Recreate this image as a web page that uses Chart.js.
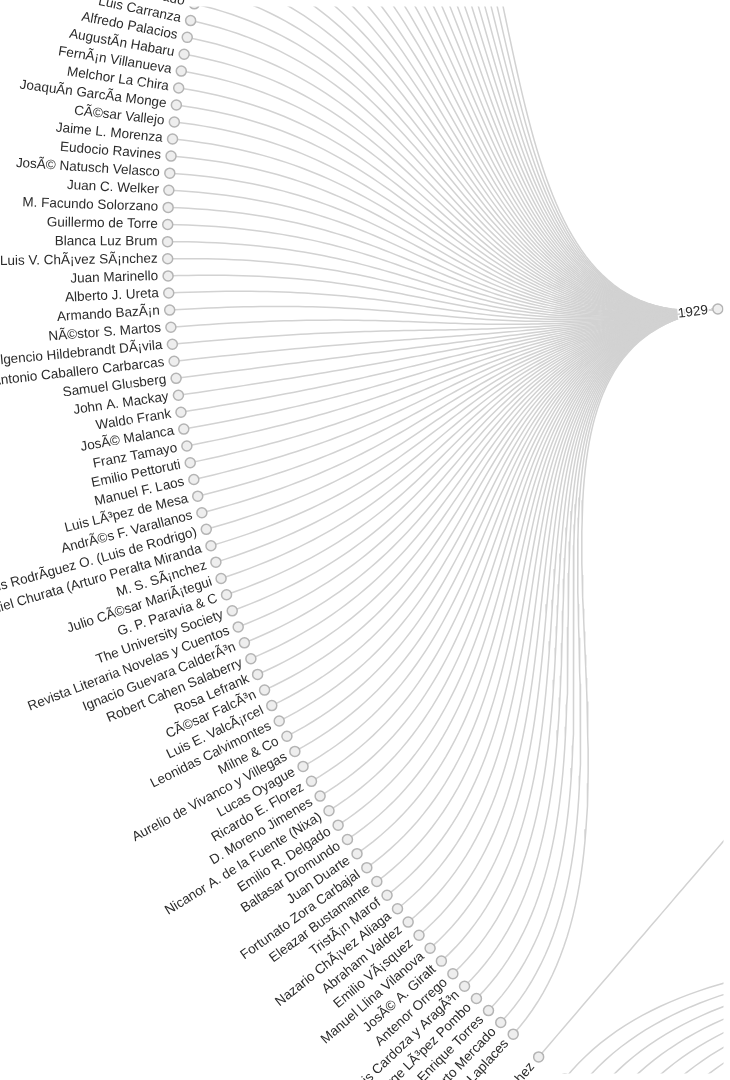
<!DOCTYPE html>
<html lang="en">
<head>
<meta charset="UTF-8">
<title>Autores por año - árbol radial</title>
<style>
  html, body { margin: 0; padding: 0; background: #fff; }
  .chart-container { width: 730px; height: 1080px; position: relative; }
</style>
</head>
<body>
<div class="chart-container"><canvas id="treeChart"></canvas></div>
<script src="https://cdn.jsdelivr.net/npm/chart.js"></script>
<script>
// year groups, in layout order (only 1929 falls inside the view)
const years = ['1929', '1928', '1930'];

// children of 1929, top to bottom (the first 23 sit above the view)
const authors1929 = [
  'Jorge Basadre', 'Magda Portal', 'SerafÃn Delmar', 'Xavier Abril', 'MartÃn AdÃ¡n',
  'Carlos Oquendo de Amat', 'JosÃ© Sabogal', 'Enrique LÃ³pez AlbÃºjar',
  'Ricardo MartÃnez de la Torre', 'Hildebrando Castro Pozo', 'Eugenio Garro',
  'Alejandro Peralta', 'Emilio Armaza', 'Jorge NÃºÃ±ez Valdivia', 'Blanca del Prado',
  'Esteban Pavletich', 'JuliÃ¡n Petrovick', 'Carlos Manuel Cox', 'Alberto Hidalgo',
  'Mariano Iberico', 'Antonio Garland', 'Luis E. Heysen', 'Jorge del Prado',
  'Luis Carranza', 'Alfredo Palacios', 'AugustÃn Habaru', 'FernÃ¡n Villanueva',
  'Melchor La Chira', 'JoaquÃn GarcÃa Monge', 'CÃ©sar Vallejo', 'Jaime L. Morenza',
  'Eudocio Ravines', 'JosÃ© Natusch Velasco', 'Juan C. Welker', 'M. Facundo Solorzano',
  'Guillermo de Torre', 'Blanca Luz Brum', 'Luis V. ChÃ¡vez SÃ¡nchez', 'Juan Marinello',
  'Alberto J. Ureta', 'Armando BazÃ¡n', 'NÃ©stor S. Martos', 'Fulgencio Hildebrandt DÃ¡vila',
  'Antonio Caballero Carbarcas', 'Samuel Glusberg', 'John A. Mackay', 'Waldo Frank',
  'JosÃ© Malanca', 'Franz Tamayo', 'Emilio Pettoruti', 'Manuel F. Laos',
  'Luis LÃ³pez de Mesa', 'AndrÃ©s F. Varallanos', 'Luis RodrÃguez O. (Luis de Rodrigo)',
  'Gamaliel Churata (Arturo Peralta Miranda', 'M. S. SÃ¡nchez', 'Julio CÃ©sar MariÃ¡tegui',
  'G. P. Paravia & C', 'The University Society', 'Revista Literaria Novelas y Cuentos',
  'Ignacio Guevara CalderÃ³n', 'Robert Cahen Salaberry', 'Rosa Lefrank', 'CÃ©sar FalcÃ³n',
  'Luis E. ValcÃ¡rcel', 'Leonidas Calvimontes', 'Milne & Co', 'Aurelio de Vivanco y Villegas',
  'Lucas Oyague', 'Ricardo E. Florez', 'D. Moreno Jimenes', 'Nicanor A. de la Fuente (Nixa)',
  'Emilio R. Delgado', 'Baltasar Dromundo', 'Juan Duarte', 'Fortunato Zora Carbajal',
  'Eleazar Bustamante', 'TristÃ¡n Marof', 'Nazario ChÃ¡vez Aliaga', 'Abraham Valdez',
  'Emilio VÃ¡squez', 'Manuel Llina Vilanova', 'JosÃ© A. Giralt', 'Antenor Orrego',
  'Luis Cardoza y AragÃ³n', 'Jorge LÃ³pez Pombo', 'Enrique Torres', 'Alberto Mercado',
  'Luis Laplaces'
];
const authors1928 = ['Luis Alberto SÃ¡nchez'];
// children of the next year, all below the view
const authors1930 = [
  'Federico More', 'Alcides SpelucÃn', 'Juan Parra del Riego', 'Ricardo Palma',
  'Ezequiel Balarezo', 'Luis Varela y Orbegoso', 'Carlos Raygada', 'Manuel Beltroy',
  'Gabriel Collazos', 'Ernesto Reyna', 'Luis de la Puente', 'JosÃ© MarÃa Eguren',
  'Abraham Valdelomar', 'Percy Gibson', 'Alberto GuillÃ©n', 'Juan JosÃ© Lora',
  'Armando Villanueva', 'Oscar Herrera', 'Gonzalo More', 'Ãngela Ramos',
  'Dora Mayer', 'MarÃa Wiesse', 'Jorge FalcÃ³n', 'Ricardo Vegas GarcÃa',
  'Federico BolaÃ±os', 'Luciano Castillo', 'MoisÃ©s SÃ¡enz', 'Diego Rivera',
  'Carlos Pellicer', 'Jaime Torres Bodet', 'Salvador Novo', 'Xavier Villaurrutia',
  'Manuel Maples Arce', 'GermÃ¡n List Arzubide', 'Vicente Huidobro', 'Pablo Neruda',
  'Gabriela Mistral', 'Juana de Ibarbourou', 'Alfonsina Storni', 'Oliverio Girondo',
  'Jorge Luis Borges', 'Ricardo GÃ¼iraldes', 'Leopoldo Lugones', 'Manuel GÃ¡lvez',
  'Enrique Amorim', 'Carlos Sabat Ercasty', 'Alberto Zum Felde', 'Emilio Frugoni',
  'Baldomero SanÃn Cano', 'GermÃ¡n Arciniegas', 'Luis Vidales', 'LeÃ³n de Greiff',
  'Rufino Blanco Fombona', 'Mariano PicÃ³n Salas', 'Jorge Carrera Andrade', 'Pablo Palacio',
  'BenjamÃn CarriÃ³n', 'Gonzalo Escudero', 'Ricardo Jaimes Freyre', 'Alcides Arguedas',
  'Roberto Prudencio', 'JosÃ© Vasconcelos', 'Alfonso Reyes', 'Pedro HenrÃquez UreÃ±a',
  'Max HenrÃquez UreÃ±a', 'RubÃ©n MartÃnez Villena', 'Jorge MaÃ±ach', 'Regino Pedroso',
  'NicolÃ¡s GuillÃ©n', 'Alejo Carpentier', 'Emilio Roig de Leuchsenring', 'FÃ©lix Lizaso',
  'JosÃ© A. FernÃ¡ndez de Castro', 'Rafael Heliodoro Valle', 'FroylÃ¡n Turcios', 'Vicente SÃ¡enz',
  'Roberto Brenes MesÃ©n', 'Omar Dengo', 'Carmen Lyra', 'SalomÃ³n de la Selva',
  'Augusto CÃ©sar Sandino', 'Henri Barbusse', 'Romain Rolland', 'Miguel de Unamuno'
];
const groupChildren = [authors1929, authors1928, authors1930];

// radial cluster geometry (view units = canvas pixels)
const CENTER_X = 1252, CENTER_Y = 239;
const LEAF_R = 1088, YEAR_R = 532;
const STEP = 0.913 * Math.PI / 180;
const FIRST_ANGLE = 212.92 * Math.PI / 180;

const polar = (a, r) => ({ x: CENTER_X + r * Math.cos(a), y: CENTER_Y + r * Math.sin(a) });

const nodes = [];
const links = [];
let slot = 0;
years.forEach((year, g) => {
  if (g > 0) slot += 1; // cluster separation between non-siblings
  const angles = [];
  groupChildren[g].forEach(name => {
    const a = FIRST_ANGLE - slot * STEP;
    angles.push(a);
    nodes.push({ ...polar(a, LEAF_R), angle: a, label: name });
    slot += 1;
  });
  const ya = angles.reduce((s, v) => s + v, 0) / angles.length;
  nodes.push({ ...polar(ya, YEAR_R), angle: ya, label: year });
  angles.forEach(a => links.push({ a0: ya, r0: YEAR_R, a1: a, r1: LEAF_R }));
});

// radial link: bezier with control points at mid radius
function linkPoints(l, n = 80) {
  const rm = (l.r0 + l.r1) / 2;
  const p0 = polar(l.a0, l.r0), p1 = polar(l.a0, rm), p2 = polar(l.a1, rm), p3 = polar(l.a1, l.r1);
  const pts = [];
  for (let i = 0; i <= n; i++) {
    const t = i / n, u = 1 - t;
    pts.push({
      x: u*u*u*p0.x + 3*u*u*t*p1.x + 3*u*t*t*p2.x + t*t*t*p3.x,
      y: u*u*u*p0.y + 3*u*u*t*p1.y + 3*u*t*t*p2.y + t*t*t*p3.y
    });
  }
  return pts;
}

const labelPlugin = {
  id: 'radialLabels',
  afterDatasetsDraw(chart) {
    const { ctx, scales: { x, y } } = chart;
    ctx.save();
    ctx.font = '13.5px "Liberation Sans", Arial, sans-serif';
    ctx.textBaseline = 'middle';
    nodes.forEach(n => {
      const px = x.getPixelForValue(n.x), py = y.getPixelForValue(n.y);
      const left = Math.cos(n.angle) < 0;
      ctx.save();
      ctx.translate(px, py);
      ctx.rotate(left ? n.angle + Math.PI : n.angle);
      ctx.textAlign = left ? 'right' : 'left';
      const off = left ? -10 : 10;
      ctx.lineWidth = 3;
      ctx.strokeStyle = '#fff';
      ctx.strokeText(n.label, off, 0);
      ctx.fillStyle = '#2b2b2b';
      ctx.fillText(n.label, off, 0);
      ctx.restore();
    });
    ctx.restore();
  }
};

const datasets = links.map(l => ({
  data: linkPoints(l),
  showLine: true,
  borderColor: '#d2d2d2',
  borderWidth: 1.5,
  pointRadius: 0,
  tension: 0,
  order: 2
}));
datasets.push({
  data: nodes.map(n => ({ x: n.x, y: n.y })),
  pointRadius: 5,
  pointBackgroundColor: '#eeeeee',
  pointBorderColor: '#b4b4b4',
  pointBorderWidth: 1.5,
  showLine: false,
  order: 1
});

new Chart(document.getElementById('treeChart').getContext('2d'), {
  type: 'scatter',
  data: { datasets },
  options: {
    responsive: true,
    maintainAspectRatio: false,
    animation: false,
    events: [],
    layout: { padding: 0 },
    plugins: { legend: { display: false }, tooltip: { enabled: false } },
    scales: {
      x: { type: 'linear', min: 0, max: 730, display: false },
      y: { type: 'linear', min: 0, max: 1080, reverse: true, display: false }
    }
  },
  plugins: [labelPlugin]
});
</script>
</body>
</html>
